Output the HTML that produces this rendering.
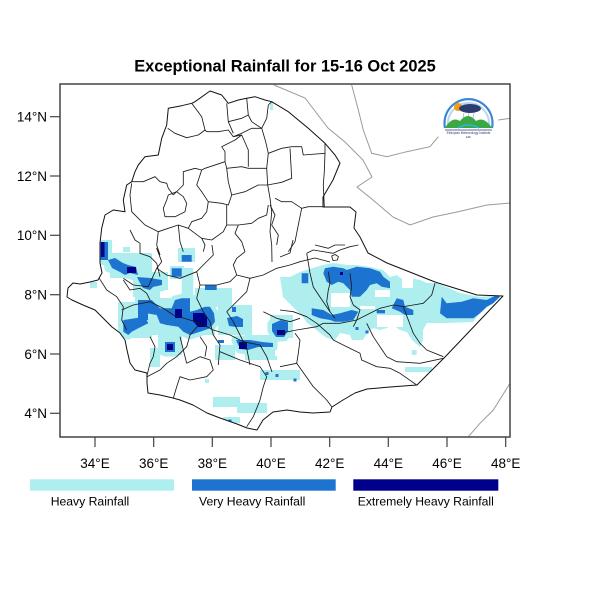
<!DOCTYPE html>
<html><head><meta charset="utf-8"><style>
html,body{margin:0;padding:0;background:#fff;}
svg{display:block;}
text{font-family:"Liberation Sans",Arial,sans-serif;}
</style></head><body>
<svg width="600" height="600" viewBox="0 0 600 600" xmlns="http://www.w3.org/2000/svg">
<defs>
<clipPath id="eth"><polygon points="101.7,228.3 105,215 113.3,210 125,211.7 123.3,200 126.7,185 131.7,181.7 135,171.7 138.3,165 145,156.7 158.3,155 161.7,138.3 166.7,125 168.3,108.3 181.7,105.7 191.7,103.3 195,101.7 210,91 221.7,95 228.3,103.3 238.3,100 246.7,98.3 255,96.7 265,100 271.7,101.7 288.3,111.7 308.3,128.3 325,143.3 335,155 340,163 333,180 323,197 323,207 350,207 356,212 354,228 360,237 368,253 387,263 435,282 477,295 503,296 445,357 417,385 390,387 367,389 355,393 343,400 332,407 330,412 313,413 300,412 287,410 273,412 263,420 257,430 247,428 237,424 220,418 207,413 193,405 180,400 173,398 160,395 148,393 147,383 147,373 135,370 130,363 127,350 125,340 120,333 112,327 103,318 95,310 83,305 72,300 67,297 68,288 73,283 80,284 90,282 98,280 102,273 100,263 100,243"/></clipPath>
</defs>
<rect width="600" height="600" fill="#fff"/>
<text x="285" y="71.5" font-size="16.4" font-weight="bold" text-anchor="middle" fill="#000">Exceptional Rainfall for 15-16 Oct 2025</text>

<g clip-path="url(#eth)">
 <!-- light (heavy) -->
 <g fill="#AEEEEE" stroke="none">
  <polygon points="280,277 290,277 300,272 313,268 323,265 333,263 347,265 357,265 370,267 383,270 390,277 397,275 400,278 410,278 420,280 427,283 437,283 460,293 480,297 498,295 493,303 480,313 473,322 447,323 427,323 423,330 423,340 420,347 412,340 407,332 400,330 393,325 387,328 380,330 373,328 367,333 363,340 352,340 350,335 340,333 335,340 327,338 320,333 313,327 307,323 303,317 293,307 283,297"/>
  <rect x="411.7" y="350" width="5" height="5"/>
  <rect x="405" y="367" width="27" height="5"/>
  <rect x="350" y="394" width="5" height="4"/>
  <rect x="100" y="240" width="12" height="25"/>
  <rect x="123" y="247" width="7" height="5"/>
  <rect x="110" y="253" width="42" height="25"/>
  <rect x="133" y="272" width="35" height="25"/>
  <rect x="178" y="248" width="17" height="14"/>
  <rect x="181.7" y="268" width="11.6" height="38"/>
  <rect x="170" y="266" width="14" height="13"/>
  <rect x="195" y="288" width="37" height="19"/>
  <rect x="218" y="305" width="34" height="30"/>
  <rect x="118" y="302" width="34" height="36"/>
  <rect x="135" y="295" width="80" height="40"/>
  <rect x="158" y="335" width="24" height="20"/>
  <rect x="150" y="348" width="10" height="19"/>
  <rect x="245" y="335" width="30" height="25"/>
  <rect x="270" y="315" width="23" height="23"/>
  <rect x="215" y="345" width="20" height="15"/>
  <rect x="90" y="282" width="7" height="6"/>
  <rect x="213" y="397" width="27" height="10"/>
  <rect x="237" y="403" width="30" height="10"/>
  <rect x="223" y="417" width="17" height="6"/>
  <rect x="260" y="370" width="40" height="10"/>
  <rect x="271" y="356" width="6" height="4"/>
  <rect x="205" y="379" width="4" height="4"/>
  <rect x="280" y="373" width="18" height="7"/>
  <rect x="270" y="100" width="3" height="10"/>
 </g>
 <!-- white holes -->
 <g fill="#fff">
  <rect x="331" y="293" width="19" height="14"/>
  <rect x="375" y="290" width="15" height="7"/>
  <rect x="402" y="278" width="11" height="10"/>
  <rect x="377" y="315" width="26" height="12"/>
  <rect x="360" y="306" width="15" height="3"/>
  <rect x="160" y="290" width="18" height="8"/>
  <rect x="112" y="280" width="14" height="14"/>
 </g>
 <!-- halos for west medium -->
 <g fill="#AEEEEE" stroke="#AEEEEE" stroke-width="9" stroke-linejoin="round">
  <polygon points="108,261 122,258 123,264 133,266 139,269 138,277 127,274 117,270 109,268"/>
  <polygon points="137,278 162,280 162,287 153,287 152,289 143,289 140,285"/>
  <polygon points="123.3,320 135,318.3 145,316.7 148.3,323.3 138.3,328.3 131.7,331.7 128.3,335 123.3,331.7"/>
  <polygon points="140,300 151.7,300 160,308.3 171.7,308.3 175,300 181.7,298.3 190,298.3 190,311.7 196.7,310 205,306.7 210,306.7 214,313.3 215,321.7 210,328.3 200,331.7 190,335 183.3,331.7 178.3,326.7 166.7,325 160,323.3 156.7,315 146.7,313.3 140,310"/>
  <polygon points="227,318 237,316 243,319 243,327 236,327 229,326"/>
  <polygon points="272,324 281,320 288,322 288,331 284,337 276,337 272,331"/>
  <polygon points="236,340 250,340 262,342 273,343 273,347 258,347 248,350 240,349"/>
  <rect x="165" y="342" width="10" height="10"/>
 </g>
 <!-- medium (very heavy) -->
 <g fill="#1C74D0">
  <rect x="100" y="242" width="8" height="18"/>
  <polygon points="108,260 115,258 123,263 128,265 136,267 138,275 130,273 125,275 120,272 112,268"/>
  <polygon points="137,277 150,278 162,280 162,285 153,287 150,290 143,288 140,283"/>
  <polygon points="123.3,320 135,318.3 145,316.7 148.3,323.3 138.3,328.3 131.7,331.7 128.3,335 123.3,331.7"/>
  <rect x="138" y="300" width="10" height="20"/>
  <polygon points="140,300 151.7,300 160,308.3 171.7,308.3 175,300 181.7,298.3 190,298.3 190,311.7 196.7,310 205,306.7 210,306.7 214,313.3 215,321.7 210,328.3 200,331.7 190,335 183.3,331.7 178.3,326.7 166.7,325 160,323.3 156.7,315 146.7,313.3 140,310"/>
  <polygon points="227,318 237,316 243,319 243,327 236,327 229,326"/>
  <rect x="232" y="307" width="4" height="5"/>
  <polygon points="272,324 281,320 288,322 288,331 284,337 276,337 272,331"/>
  <polygon points="236,340 250,340 262,342 273,343 273,347 258,347 248,350 240,349"/>
  <rect x="218" y="340" width="6" height="3"/>
  <rect x="165" y="342" width="10" height="10"/>
  <rect x="181.7" y="255" width="10" height="6.7"/>
  <rect x="171.7" y="268.3" width="10" height="8.4"/>
  <rect x="205" y="285" width="11.7" height="5"/>
  <rect x="265.5" y="372" width="3" height="3"/>
  <rect x="275.5" y="374" width="3" height="3"/>
  <rect x="228.5" y="419.5" width="3" height="3"/>
  <rect x="293.5" y="378.5" width="3" height="3"/>
  <polygon points="301.7,273.3 308.3,273.3 308.3,283.3 301.7,283.3"/>
  <polygon points="325,268.3 333.3,266.7 343.3,268.3 346.7,270 356.7,266.7 370,268.3 380,271.7 383.3,276.7 390,281.7 390,288.3 381.7,286.7 376.7,283.3 370,285 366.7,290 360,296.7 351.7,296.7 350,290 343.3,283.3 338.3,281.7 331.7,285 326.7,281.7 323.3,273.3"/>
  <polygon points="311.7,308.3 323.3,310 331.7,315 340,313.3 351.7,310 358.3,311.7 353.3,320 343.3,321.7 335,321.7 330,320 320,318.3 311.7,315"/>
  <rect x="376.7" y="310" width="8.3" height="3.3"/>
  <polygon points="393.3,305 396.7,298.3 403.3,300 405,306.7 413.3,310 413.3,315 405,315 400,311.7 391.7,308.3"/>
  <polygon points="441.7,296.7 446.7,303.3 461.7,301.7 473.3,298.3 486.7,300 496.7,295 500,296.7 493.3,303.3 486.7,306.7 480,313.3 473.3,318.3 446.7,318.3 440,313.3"/>
  <rect x="355.5" y="327" width="3" height="3"/>
  <rect x="365.5" y="330.5" width="3" height="3"/>
 </g>
 <!-- dark (extreme) -->
 <g fill="#00008B">
  <rect x="101" y="242" width="3.5" height="15"/>
  <rect x="127" y="267" width="9" height="6"/>
  <rect x="175" y="309" width="7" height="9"/>
  <polygon points="193,313 204,313 207,318 207,327 198,327 193,321"/>
  <rect x="277" y="330" width="8" height="5"/>
  <rect x="239" y="342" width="8" height="7"/>
  <rect x="167" y="344" width="6" height="6"/>
  <rect x="340" y="272" width="3" height="3"/>
 </g>
</g>

<!-- neighbouring country borders -->
<g fill="none" stroke="#9a9a9a" stroke-width="1">
 <polyline points="274,85 305,98 328,128 345,142 363,160 372,177 357,187 373,200 393,217 410,225 433,217 457,212 487,205 510,203"/>
 <polyline points="351.7,85 358.3,110 363.3,130 371.7,153.3 386.7,156.7 406.7,151.7 430,146.7 438.3,136.7"/>
 <polyline points="498.3,120 510,118.3"/>
 <polyline points="510,383.3 493.3,410 480,423.3 468.3,436.7"/>
</g>

<!-- internal borders -->
<g fill="none" stroke="#1a1a1a" stroke-width="0.85" stroke-linejoin="round">
 <polyline points="167.7,128.3 175,133.3 186.7,137.7 198.3,135 205,130 206.7,131.7 218.3,131.7 228.3,130 233.3,136.7"/>
 <polyline points="191.7,103.3 201.7,116.7 205,130"/>
 <polyline points="226.7,103.3 228.3,121.7 233.3,133.3"/>
 <polyline points="246.7,98.3 248.3,115 251.7,121.7 261.7,128.3 266.7,118.3 268.3,105 271.7,101.7"/>
 <polyline points="228.3,121.7 241.7,118.3 248.3,115"/>
 <polyline points="233.3,136.7 241.7,133.3 251.7,128.3 261.7,128.3"/>
 <polyline points="261.7,128.3 265.7,141.7 268.3,153.3 266.7,168.3 267.7,185 270,198.3 271.7,211.7 270,231.7 271.7,245 272,262"/>
 <polyline points="268.3,153.3 281.7,148.3 291.7,146.7 301.7,146.7 303.3,155 325,153.3"/>
 <polyline points="290,148.3 291.7,178.3 281.7,182.3 267.7,185"/>
 <polyline points="325,143.3 325,153.3 324.3,171.7 323.3,185 324.3,206.7"/>
 <polyline points="131.7,181.7 143.3,181.7 155,176.7 160,181.7 166.7,183.3 168.3,188.3 173.3,195"/>
 <polygon points="168.3,195 176.7,191.7 183.3,196.7 186.7,203.3 185,211.7 175,216.7 165,216.7 163.3,208.3 166.7,200"/>
 <polyline points="173.3,195 183.3,185 183.3,171.7 195,168.3 201.7,170 205,168.3 225,161.7 225,151.7 221.7,146.7 235,140 241.7,135 233.3,136.7"/>
 <polyline points="225,161.7 226.7,168.3 241.7,166.7 248.3,168.3 266.7,168.3"/>
 <polyline points="241.7,135 248.3,150 248.3,166.7"/>
 <polyline points="226.7,168.3 228.3,181.7 231.7,195 245,191.7 258.3,185 267.7,185"/>
 <polyline points="201.7,170 196.7,185 201.7,191.7 208.3,201.7 221.7,203.3 228.3,205 231.7,195"/>
 <polyline points="208.3,201.7 206.7,211.7 201.7,218.3 191.7,221.7 188.3,228.3 201.7,238.3 211.7,240 223.3,231.7 226.7,225 226.7,205"/>
 <polyline points="226.7,225 238.3,225 251.7,223.3 258.3,218.3 266.7,215 268.3,205"/>
 <polyline points="238.3,225 235,233.3 241.7,241.7 245,251.7"/>
 <polyline points="188.3,228.3 178.3,225 168.3,228.3 158.3,231.7 156.7,245 160,255"/>
 <polyline points="131.7,183.3 130,195 131.7,211.7 138.3,218.3 145,225 158.3,231.7"/>
 <polyline points="178.3,225 180,241.7 183.3,251.7"/>
 <polyline points="201.7,238.3 205,245 203.3,251.7"/>
 <polyline points="275,198.3 281.7,201.7 291.7,201.7 301.7,208.3 298.3,225 295,241.7 288.3,251.7"/>
 <polyline points="270,205 275,215 271.7,225 278.3,235 276.7,245"/>
 <polyline points="301.7,208.3 308.3,206.7 324.3,206.7"/>
 <polyline points="293,240 290,253 280,257"/>
 <polyline points="306.7,253.3 313.3,250 333.3,253.3 340,250 350,246.7 358.3,245"/>
 <polyline points="306.7,253.3 310,273 313.3,287 320,297 330,311.7"/>
 <polyline points="315,245 328.3,248.3 335,245 345,245"/>
 <polyline points="99.3,278.3 106.7,290 116.7,296.7 123.3,306.7 121.7,320 126.7,330"/>
 <polyline points="121.7,310 133.3,305 150,301.7 163.3,308.3 173.3,315 190,320 200,323.3 213.3,330 230,335 243.3,341.7 260,345 266.7,356.7 272,372"/>
 <polyline points="196.7,271.7 200,285 196.7,298.3 203.3,311.7 210,321.7 213.3,335 220,345 218.3,365"/>
 <polyline points="226.7,311.7 233.3,321.7 240,335 246.7,348.3 250,365"/>
 <polyline points="236.7,275 250,278.3 263.3,275 276.7,268.3 290,265 300,261.7 315,258 330,262"/>
 <polyline points="250,278.3 246.7,291.7 233.3,305 226.7,311.7"/>
 <polyline points="263.3,311.7 276.7,318.3 290,321.7 300,318.3"/>
 <polyline points="200,285 216.7,285 230,281.7 236.7,275 233.3,265 236.7,258.3 245,251.7"/>
 <polyline points="156.7,268.3 166.7,275 180,278.3 196.7,271.7 203.3,265 213.3,255 212,245"/>
 <polyline points="123.3,278.3 133.3,285 148.3,286.7 156.7,268.3 161.7,261.7 156.7,248.3 160,255"/>
 <polyline points="123.3,280 130,290 140,288.3 146.7,293.3 150,300"/>
 <polyline points="130,230 135,240 140,243.3 140,253.3 150,256.7 156.7,263.3 160,276.7"/>
 <polyline points="147,376.7 160,370 166.7,363.3 176.7,356.7 186.7,346.7 190,335 200,323.3"/>
 <polyline points="150,336.7 155,346.7 153.3,356.7 150,363.3 146.7,376.7"/>
 <polyline points="180,336.7 183.3,350 186.7,363.3"/>
 <polyline points="200,336.7 206.7,346.7 205,356.7"/>
 <polyline points="186.7,363.3 200,356.7 210,360 213.3,370 206.7,376.7 190,380 180,376.7 176.7,386.7 173.3,398.3"/>
 <polyline points="220,351.7 240,360 260,366.7 266.7,376.7 263.3,386.7 260,400 253.3,416.7 246.7,426.7"/>
 <polyline points="280,366.7 296.7,363.3 313.3,386.7 326.7,400 331.7,406.7"/>
 <polyline points="295,333.3 300,340 298.3,353.3 296.7,363.3"/>
 <polyline points="280,310 293.3,311.7 306.7,316.7 316.7,323.3 330,335 333.3,340 346.7,346.7 360,353.3 361.7,360 376.7,366.7 390,368.3 400,373.3 416.7,385"/>
 <polyline points="280,333.3 296.7,330 316.7,326.7 323.3,323.3 340,323.3 356.7,320 370,313.3 380,308.3 393.3,305 403.3,306.7 413.3,305 423.3,303.3 431.7,295 435,283.3"/>
 <polyline points="403.3,306.7 408.3,320 413.3,333.3 420,343.3 426.7,350 443.3,356.7"/>
 <polyline points="366.7,323.3 373.3,336.7 380,346.7 386.7,356.7 396.7,361.7 420,363.3 443.3,358.3"/>
 <polyline points="350,273.3 351.7,286.7 350,296.7 353.3,305 360,310 356.7,320 353.3,326.7"/>
 <polyline points="328.3,271.7 330,283.3 328.3,290 326.7,301.7 330,311.7 335,318.3"/>
 <polygon points="331.7,256 335,254.5 338.3,256.5 337.5,260 333,260.5"/>
</g>
<!-- outline -->
<polygon fill="none" stroke="#111" stroke-width="1" stroke-linejoin="round" points="101.7,228.3 105,215 113.3,210 125,211.7 123.3,200 126.7,185 131.7,181.7 135,171.7 138.3,165 145,156.7 158.3,155 161.7,138.3 166.7,125 168.3,108.3 181.7,105.7 191.7,103.3 195,101.7 210,91 221.7,95 228.3,103.3 238.3,100 246.7,98.3 255,96.7 265,100 271.7,101.7 288.3,111.7 308.3,128.3 325,143.3 335,155 340,163 333,180 323,197 323,207 350,207 356,212 354,228 360,237 368,253 387,263 435,282 477,295 503,296 445,357 417,385 390,387 367,389 355,393 343,400 332,407 330,412 313,413 300,412 287,410 273,412 263,420 257,430 247,428 237,424 220,418 207,413 193,405 180,400 173,398 160,395 148,393 147,383 147,373 135,370 130,363 127,350 125,340 120,333 112,327 103,318 95,310 83,305 72,300 67,297 68,288 73,283 80,284 90,282 98,280 102,273 100,263 100,243"/>

<!-- logo -->
<g transform="translate(0,-3)">
 <path d="M445,131 A24,24 0 1,1 492,131" fill="none" stroke="#3d86d6" stroke-width="2.2"/>
 <path d="M448.5,131 A20.5,20.5 0 1,1 488.5,131" fill="none" stroke="#bcd4f0" stroke-width="2"/>
 <circle cx="458" cy="110" r="4" fill="#f39c12"/>
 <ellipse cx="470" cy="111.5" rx="11" ry="4.5" fill="#2c3e70"/>
 <g stroke="#8aa0c0" stroke-width="0.6"><line x1="464" y1="116" x2="463" y2="121"/><line x1="469" y1="116" x2="468" y2="121"/><line x1="474" y1="116" x2="473" y2="121"/></g>
 <path d="M445,131 Q452,119 460,124 Q468,114 476,124 Q484,119 492,131 Z" fill="#3aa845"/>
 <path d="M458,131 Q468,125 479,131" stroke="#29b6e8" stroke-width="1.5" fill="none"/>
 <line x1="445" y1="133" x2="492" y2="133" stroke="#2c3e70" stroke-width="0.7"/>
 <text x="468.5" y="137" font-size="3.2" text-anchor="middle" fill="#2c3e70">Ethiopian Meteorology Institute</text>
 <text x="468.5" y="141" font-size="2.8" text-anchor="middle" fill="#2c3e70">EMI</text>
</g>

<!-- frame & ticks -->
<rect x="60" y="84" width="450" height="353" fill="none" stroke="#444" stroke-width="1.5"/>
<g stroke="#444" stroke-width="1.2">
 <line x1="50" y1="116.7" x2="60" y2="116.7"/><line x1="50" y1="176" x2="60" y2="176"/><line x1="50" y1="235.3" x2="60" y2="235.3"/><line x1="50" y1="294.7" x2="60" y2="294.7"/><line x1="50" y1="354" x2="60" y2="354"/><line x1="50" y1="413.3" x2="60" y2="413.3"/>
 <line x1="95" y1="437" x2="95" y2="447"/><line x1="153.7" y1="437" x2="153.7" y2="447"/><line x1="212.3" y1="437" x2="212.3" y2="447"/><line x1="271" y1="437" x2="271" y2="447"/><line x1="329.7" y1="437" x2="329.7" y2="447"/><line x1="388.3" y1="437" x2="388.3" y2="447"/><line x1="447" y1="437" x2="447" y2="447"/><line x1="505.7" y1="437" x2="505.7" y2="447"/>
</g>
<g font-size="13.5" fill="#000" text-anchor="end">
 <text x="47" y="121.5">14°N</text><text x="47" y="180.8">12°N</text><text x="47" y="240.1">10°N</text><text x="47" y="299.5">8°N</text><text x="47" y="358.8">6°N</text><text x="47" y="418.1">4°N</text>
</g>
<g font-size="13.5" fill="#000" text-anchor="middle">
 <text x="95" y="468">34°E</text><text x="153.7" y="468">36°E</text><text x="212.3" y="468">38°E</text><text x="271" y="468">40°E</text><text x="329.7" y="468">42°E</text><text x="388.3" y="468">44°E</text><text x="447" y="468">46°E</text><text x="505.7" y="468">48°E</text>
</g>

<!-- legend -->
<rect x="30" y="479.3" width="144" height="11.4" fill="#AEEEEE"/>
<rect x="192" y="479.3" width="143.7" height="11.4" fill="#1C74D0"/>
<rect x="353.3" y="479.3" width="145" height="11.4" fill="#00008B"/>
<g font-size="12.2" fill="#000">
 <text x="50.7" y="505.5">Heavy Rainfall</text>
 <text x="199" y="505.5">Very Heavy Rainfall</text>
 <text x="357.7" y="505.5">Extremely Heavy Rainfall</text>
</g>
</svg>
</body></html>
